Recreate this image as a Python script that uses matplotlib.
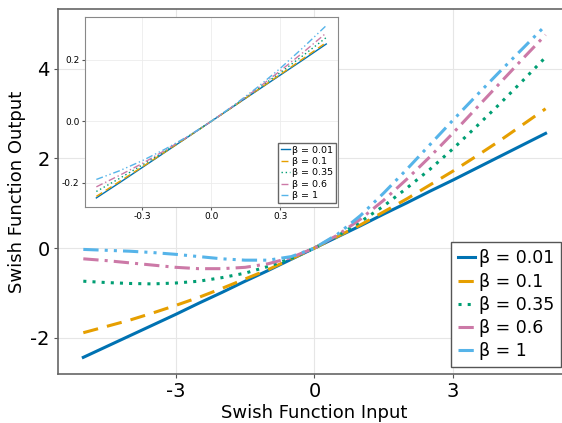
import matplotlib
matplotlib.use("Agg")
import matplotlib.pyplot as plt

plt.rcParams["axes.unicode_minus"] = False

# swish outputs, x = -5 .. 5 in steps of 0.5
x_main = [-5.0, -4.5, -4.0, -3.5, -3.0, -2.5, -2.0, -1.5, -1.0, -0.5, 0.0,
          0.5, 1.0, 1.5, 2.0, 2.5, 3.0, 3.5, 4.0, 4.5, 5.0]
y_b001 = [-2.44, -2.20, -1.96, -1.72, -1.48, -1.23, -0.99, -0.74, -0.50, -0.25, 0.0,
          0.25, 0.50, 0.76, 1.01, 1.27, 1.52, 1.78, 2.04, 2.30, 2.56]
y_b01 = [-1.89, -1.75, -1.61, -1.45, -1.28, -1.10, -0.90, -0.69, -0.48, -0.24, 0.0,
         0.26, 0.52, 0.81, 1.10, 1.41, 1.72, 2.05, 2.39, 2.75, 3.11]
y_b035 = [-0.74, -0.77, -0.79, -0.80, -0.78, -0.74, -0.66, -0.56, -0.41, -0.23, 0.0,
          0.27, 0.59, 0.94, 1.34, 1.76, 2.22, 2.71, 3.21, 3.73, 4.26]
y_b06 = [-0.24, -0.28, -0.33, -0.38, -0.43, -0.46, -0.46, -0.43, -0.35, -0.21, 0.0,
         0.29, 0.65, 1.07, 1.54, 2.04, 2.57, 3.12, 3.67, 4.22, 4.76]
y_b1 = [-0.03, -0.05, -0.07, -0.10, -0.14, -0.19, -0.24, -0.27, -0.27, -0.19, 0.0,
        0.31, 0.73, 1.23, 1.76, 2.31, 2.86, 3.40, 3.93, 4.45, 4.97]

# zoomed view, x = -0.5 .. 0.5 in steps of 0.1
x_zoom = [-0.5, -0.4, -0.3, -0.2, -0.1, 0.0, 0.1, 0.2, 0.3, 0.4, 0.5]
z_b001 = [-0.249, -0.200, -0.150, -0.100, -0.050, 0.0, 0.050, 0.100, 0.150, 0.200, 0.251]
z_b01 = [-0.244, -0.196, -0.148, -0.099, -0.050, 0.0, 0.050, 0.101, 0.152, 0.204, 0.256]
z_b035 = [-0.228, -0.186, -0.142, -0.097, -0.049, 0.0, 0.051, 0.104, 0.158, 0.214, 0.272]
z_b06 = [-0.213, -0.176, -0.137, -0.094, -0.049, 0.0, 0.052, 0.106, 0.164, 0.224, 0.287]
z_b1 = [-0.189, -0.161, -0.128, -0.090, -0.048, 0.0, 0.053, 0.110, 0.172, 0.240, 0.311]

labels = ["β = 0.01", "β = 0.1", "β = 0.35", "β = 0.6", "β = 1"]
colors = ["#0072B2", "#E69F00", "#009E73", "#CC79A7", "#56B4E9"]
styles = ["-", (0, (5, 3)), (0, (1, 2)), (0, (5, 2, 1, 2)), (0, (5, 2, 1, 2, 1, 2))]

main_series = [y_b001, y_b01, y_b035, y_b06, y_b1]
zoom_series = [z_b001, z_b01, z_b035, z_b06, z_b1]

fig = plt.figure(figsize=(5.62, 4.23), dpi=100)
ax = fig.add_axes([0.103, 0.116, 0.913, 0.863])

for ys, c, ls, lab in zip(main_series, colors, styles, labels):
    ax.plot(x_main, ys, color=c, linestyle=ls, linewidth=2.2, label=lab)

ax.set_xlim(-5.55, 5.55)
ax.set_ylim(-2.81, 5.34)
ax.set_xticks([-3, 0, 3])
ax.set_yticks([-2, 0, 2, 4])
ax.grid(True, color="#e6e6e6", linewidth=0.8)
ax.tick_params(labelsize=14, length=3, color="#555555", direction="out", pad=3)
for s in ax.spines.values():
    s.set_color("#666666")
    s.set_linewidth(1.2)
ax.set_xlabel("Swish Function Input", fontsize=13, labelpad=2)
ax.set_ylabel("Swish Function Output", fontsize=13, labelpad=3)
ax.legend(loc="lower right", bbox_to_anchor=(0.998, 0.132), bbox_transform=fig.transFigure,
          fontsize=12.5, handlelength=1.0, handletextpad=0.2, labelspacing=0.3,
          borderpad=0.4, borderaxespad=0, fancybox=False, edgecolor="#555555",
          framealpha=1)

ins = fig.add_axes([0.151, 0.511, 0.450, 0.449])
for ys, c, ls, lab in zip(zoom_series, colors, styles, labels):
    ins.plot(x_zoom, ys, color=c, linestyle=ls, linewidth=1.0, label=lab)
ins.set_xlim(-0.55, 0.55)
ins.set_ylim(-0.278, 0.339)
ins.set_xticks([-0.3, 0.0, 0.3])
ins.set_yticks([-0.2, 0.0, 0.2])
ins.set_xticklabels(["-0.3", "0.0", "0.3"])
ins.set_yticklabels(["-0.2", "0.0", "0.2"])
ins.grid(True, color="#ececec", linewidth=0.6)
ins.tick_params(labelsize=6.5, length=2, color="#555555", pad=2)
for s in ins.spines.values():
    s.set_color("#888888")
    s.set_linewidth(0.8)
ins.legend(loc="lower right", bbox_to_anchor=(0.598, 0.520), bbox_transform=fig.transFigure,
           fontsize=6.8, handlelength=1.0, handletextpad=0.2, labelspacing=0.25,
           borderpad=0.3, borderaxespad=0, fancybox=False, edgecolor="#666666",
           framealpha=1)

fig.savefig("out.png", dpi=100)
